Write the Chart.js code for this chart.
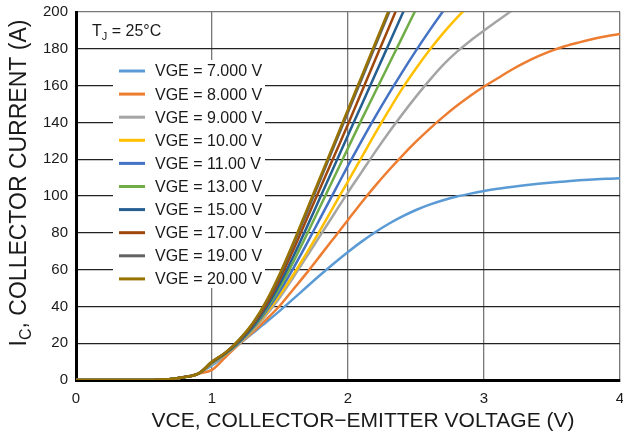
<!DOCTYPE html>
<html>
<head>
<meta charset="utf-8">
<script src="https://cdn.jsdelivr.net/npm/chart.js@4/dist/chart.umd.min.js"></script>
<style>
  body { margin: 0; background: #fff; }
  #wrap { width: 623px; height: 436px; position: relative; }
</style>
</head>
<body>
<div id="wrap"><canvas id="chart"></canvas></div>
<script>
// collector-emitter voltage (V), 0.1 V steps
const vce = [0, 0.1, 0.2, 0.3, 0.4, 0.5, 0.6, 0.7, 0.8, 0.9,
  1.0, 1.1, 1.2, 1.3, 1.4, 1.5, 1.6, 1.7, 1.8, 1.9,
  2.0, 2.1, 2.2, 2.3, 2.4, 2.5, 2.6, 2.7, 2.8, 2.9,
  3.0, 3.1, 3.2, 3.3, 3.4, 3.5, 3.6, 3.7, 3.8, 3.9, 4.0]

// collector current (A) per gate voltage
const vge7 = [0, 0, 0, 0, 0, 0, 0.2, 0.6, 1.6, 3.5,
  8, 13.5, 19.5, 25.5, 31.5, 37.7, 44.2, 50.8, 57.3, 63.6,
  69.6, 75.2, 80.3, 84.9, 88.9, 92.4, 95.3, 97.7, 99.7, 101.3,
  102.7, 103.9, 104.9, 105.8, 106.6, 107.3, 107.9, 108.5, 109, 109.4, 109.6]
const vge8 = [0, 0, 0, 0, 0, 0, 0.2, 0.6, 1.6, 3.5,
  5.5, 12.5, 19.5, 26, 33, 40.5, 49.5, 58.5, 68, 77.5,
  87, 96.5, 105.5, 114, 122, 129.5, 136.5, 143, 149, 154.5,
  159.5, 164, 168.5, 172.5, 176, 179, 181.5, 183.5, 185.3, 186.8, 188]
const vge9 = [0, 0, 0, 0, 0, 0, 0.2, 0.6, 1.6, 3.5,
  8.8, 13.8, 19.8, 27, 35.5, 45, 56, 67.5, 79, 90.5,
  102, 113, 124, 134.5, 144.5, 154, 163, 171.3, 178.3, 184.4,
  189.9, 195.2, 200.5]
const vge10 = [0, 0, 0, 0, 0, 0, 0.2, 0.6, 1.6, 3.5,
  9, 14, 20.2, 27.5, 36.5, 46.5, 57.5, 69.5, 82, 95,
  108, 121, 134, 146.5, 158.5, 169.3, 179.3, 188.5, 196.8, 204.3]
const vge11 = [0, 0, 0, 0, 0, 0, 0.2, 0.6, 1.6, 3.5,
  9.2, 14.2, 20.4, 28, 37.5, 48.5, 61, 74.5, 88.5, 102.5,
  116.5, 130, 143, 155.5, 167.5, 179, 190, 200.5, 210.5]
const vge13 = [0, 0, 0, 0, 0, 0, 0.2, 0.6, 1.6, 3.5,
  9.4, 14.4, 20.7, 28.5, 38.5, 50.5, 64.5, 79.5, 95, 110.5,
  126, 141.5, 156.5, 171.5, 186.5, 201.5, 216.5]
const vge15 = [0, 0, 0, 0, 0, 0, 0.2, 0.6, 1.6, 3.5,
  9.6, 14.6, 21, 29, 39.5, 52.5, 67.5, 83.5, 100, 116.5,
  133, 149.5, 166, 182.5, 199, 215.5]
const vge17 = [0, 0, 0, 0, 0, 0, 0.2, 0.6, 1.6, 3.5,
  9.8, 14.8, 21.5, 30, 41, 55, 71, 88, 105, 122,
  139, 156.5, 174, 191.5, 209]
const vge19 = [0, 0, 0, 0, 0, 0, 0.2, 0.6, 1.6, 3.5,
  10, 15, 22, 30.5, 42.5, 57, 74, 91.5, 109.5, 127.5,
  145.5, 163.5, 181.5, 199.5, 217.5]
const vge20 = [0, 0, 0, 0, 0, 0, 0.2, 0.6, 1.6, 3.5,
  10, 15, 22, 31, 43, 58, 75, 93, 111, 129,
  147, 165, 183, 201, 219]

const seriesLabels = ['VGE = 7.000 V', 'VGE = 8.000 V', 'VGE = 9.000 V', 'VGE = 10.00 V', 'VGE = 11.00 V',
  'VGE = 13.00 V', 'VGE = 15.00 V', 'VGE = 17.00 V', 'VGE = 19.00 V', 'VGE = 20.00 V']
const series = [vge7, vge8, vge9, vge10, vge11, vge13, vge15, vge17, vge19, vge20]
const xTicks = [0, 1, 2, 3, 4]
const yTicks = [0, 20, 40, 60, 80, 100, 120, 140, 160, 180, 200]

const colors = ['#5B9BD5', '#ED7D31', '#A5A5A5', '#FFC000', '#4472C4',
  '#70AD47', '#255E91', '#9E480E', '#636363', '#997300']

const FONT = '"Liberation Sans", Arial, Helvetica, sans-serif'

const datasets = series.map((s, i) => ({
  label: seriesLabels[i],
  data: s.map((y, j) => ({ x: vce[j], y: y })),
  borderColor: colors[i],
  backgroundColor: colors[i],
  borderWidth: 2.5,
  pointRadius: 0,
  cubicInterpolationMode: 'monotone',
  fill: false,
  order: series.length - i
}))

// legend box, Tj note and axis titles (subscripts) drawn by hand
const overlay = {
  id: 'overlay',
  afterDraw(chart) {
    const ctx = chart.ctx
    ctx.save()

    // legend
    ctx.fillStyle = '#fff'
    ctx.fillRect(113, 60, 152, 228)
    ctx.font = '16px ' + FONT
    ctx.textBaseline = 'middle'
    ctx.textAlign = 'left'
    seriesLabels.forEach((lab, i) => {
      const y = 71 + i * 23.1
      ctx.strokeStyle = colors[i]
      ctx.lineWidth = 3
      ctx.beginPath()
      ctx.moveTo(119, y)
      ctx.lineTo(145, y)
      ctx.stroke()
      ctx.fillStyle = '#1a1a1a'
      ctx.fillText(lab, 155, y + 1)
    })

    // T_J = 25°C
    ctx.textBaseline = 'alphabetic'
    ctx.fillStyle = '#1a1a1a'
    let x = 92
    ctx.font = '16px ' + FONT
    ctx.fillText('T', x, 36)
    x += ctx.measureText('T').width
    ctx.font = '11px ' + FONT
    ctx.fillText('J', x, 40)
    x += ctx.measureText('J').width
    ctx.font = '16px ' + FONT
    ctx.fillText(' = 25°C', x, 36)

    // x title
    ctx.font = '21px ' + FONT
    ctx.textAlign = 'center'
    ctx.fillText('VCE, COLLECTOR\u2212EMITTER VOLTAGE (V)', 363, 427)

    // y title, rotated
    ctx.translate(26, 183)
    ctx.rotate(-Math.PI / 2)
    ctx.textAlign = 'left'
    ctx.font = '23px ' + FONT
    const wI = ctx.measureText('I').width
    const rest = ', COLLECTOR CURRENT (A)'
    const wRest = ctx.measureText(rest).width
    ctx.font = '16px ' + FONT
    const wC = ctx.measureText('C').width
    let sx = -(wI + wC + wRest) / 2
    ctx.font = '23px ' + FONT
    ctx.fillText('I', sx, 0)
    sx += wI
    ctx.font = '16px ' + FONT
    ctx.fillText('C', sx, 5)
    sx += wC
    ctx.font = '23px ' + FONT
    ctx.fillText(rest, sx, 0)

    ctx.restore()
  }
}

new Chart(document.getElementById('chart'), {
  type: 'line',
  data: { datasets: datasets },
  plugins: [overlay],
  options: {
    responsive: true,
    maintainAspectRatio: false,
    animation: false,
    layout: { padding: { top: 12, right: 3, left: 0, bottom: 0 } },
    plugins: {
      legend: { display: false },
      tooltip: { enabled: false }
    },
    scales: {
      x: {
        type: 'linear',
        min: 0,
        max: 4,
        afterBuildTicks: s => { s.ticks = xTicks.map(v => ({ value: v })) },
        afterFit: s => { s.height = 56; s.paddingLeft = 0; s.paddingRight = 0 },
        ticks: {
          color: '#1a1a1a',
          font: { family: FONT, size: 15 },
          padding: 10,
          maxRotation: 0
        },
        grid: { color: '#777', lineWidth: 1.3, drawTicks: false },
        border: { color: '#000', width: 3 }
      },
      y: {
        min: 0,
        max: 200,
        afterBuildTicks: s => { s.ticks = yTicks.map(v => ({ value: v })) },
        afterFit: s => { s.width = 76; s.paddingTop = 0; s.paddingBottom = 0 },
        ticks: {
          color: '#1a1a1a',
          font: { family: FONT, size: 15 },
          padding: 8
        },
        grid: {
          color: c => (c.tick && c.tick.value === 200 ? '#777' : '#222'),
          lineWidth: 1.3,
          drawTicks: false
        },
        border: { color: '#000', width: 3 }
      }
    }
  }
})
</script>
</body>
</html>
